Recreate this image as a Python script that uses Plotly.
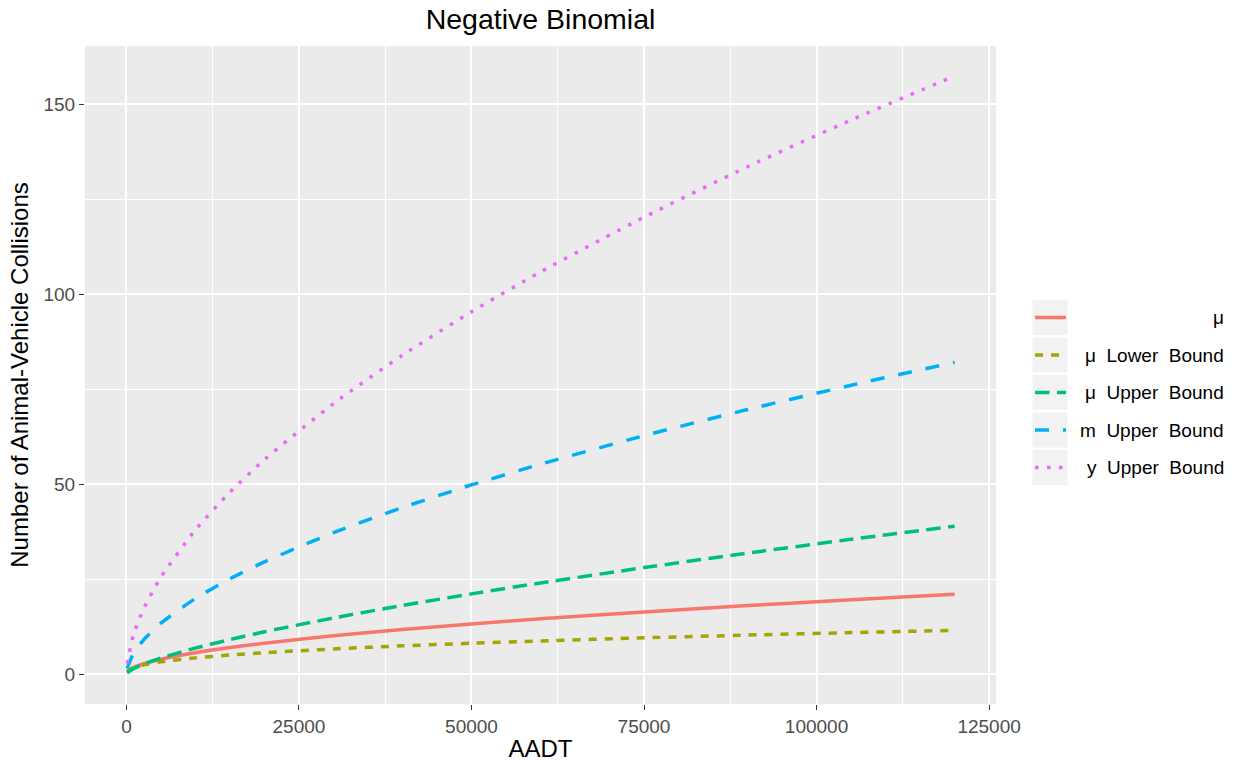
import plotly.graph_objects as go

# ---- data ----
aadt = [100, 1000, 2500, 5000, 10000, 15000, 20000, 30000, 40000, 50000,
        60000, 75000, 90000, 105000, 120000]
mu = [0.49, 1.66, 2.70, 3.90, 5.62, 6.97, 8.12, 10.07, 11.73, 13.2,
      14.54, 16.36, 18.02, 19.56, 20.99]
mu_lower = [0.67, 1.69, 2.44, 3.22, 4.25, 5.00, 5.61, 6.60, 7.41, 8.1,
            8.71, 9.53, 10.25, 10.90, 11.50]
mu_upper = [0.27, 1.37, 2.59, 4.21, 6.84, 9.08, 11.11, 14.76, 18.05, 21.1,
            23.97, 28.03, 31.84, 35.47, 38.94]
m_upper = [1.44, 5.34, 9.01, 13.38, 19.88, 25.05, 29.52, 37.21, 43.85, 49.8,
           55.26, 62.77, 69.65, 76.05, 82.08]
y_upper = [2.72, 10.16, 17.17, 25.52, 37.96, 47.88, 56.45, 71.21, 83.95, 95.4,
           105.9, 120.3, 133.6, 145.9, 157.5]

series_names = ["μ", "μ Lower Bound", "μ Upper Bound", "m Upper Bound", "y Upper Bound"]
series_values = [mu, mu_lower, mu_upper, m_upper, y_upper]
colors = ["#F8766D", "#A3A500", "#00BF7D", "#00B0F6", "#E76BF3"]
dashes = ["solid", "8px,8px", "14.5px,7.5px", "14px,14px", "3.5px,8.5px"]

x_ticks = [0, 25000, 50000, 75000, 100000, 125000]
x_ticktext = ["0", "25000", "50000", "75000", "100000", "125000"]
y_ticks = [0, 50, 100, 150]
y_ticktext = ["0", "50", "100", "150"]

FONT = "Liberation Sans, Arial, sans-serif"
W, H = 1238, 765
L, R, T, B = 85, 242, 46, 61

fig = go.Figure()
for name, vals, col, dsh in zip(series_names, series_values, colors, dashes):
    fig.add_trace(go.Scatter(
        x=aadt, y=vals, mode="lines", name=name, showlegend=False,
        line=dict(color=col, width=3.5, dash=dsh, shape="spline", smoothing=0.6),
    ))

fig.update_layout(
    width=W, height=H,
    margin=dict(l=L, r=R, t=T, b=B, autoexpand=False),
    paper_bgcolor="white", plot_bgcolor="#EBEBEB",
    font=dict(family=FONT, color="#4D4D4D", size=19),
    title=dict(text="Negative Binomial", x=0.5, xref="paper", xanchor="center",
               y=1 - 19 / H, yref="container", yanchor="middle",
               font=dict(family=FONT, size=28.5, color="black")),
    showlegend=False,
)

fig.update_xaxes(
    range=[-6000, 126000], tickvals=x_ticks, ticktext=x_ticktext,
    showgrid=True, gridcolor="white", gridwidth=1.6, zeroline=False,
    minor=dict(tick0=12500, dtick=25000, showgrid=True, gridcolor="white", gridwidth=0.8),
    ticks="outside", ticklen=5, tickwidth=1.1, tickcolor="#333333",
    tickfont=dict(family=FONT, size=19, color="#4D4D4D"),
    showline=False, automargin=False,
    title=dict(text="AADT", font=dict(family=FONT, size=24, color="black"), standoff=4),
)
fig.update_yaxes(
    range=[-7.9, 165.4], tickvals=y_ticks, ticktext=y_ticktext,
    showgrid=True, gridcolor="white", gridwidth=1.6, zeroline=False,
    minor=dict(tick0=25, dtick=50, showgrid=True, gridcolor="white", gridwidth=0.8),
    ticks="outside", ticklen=5, tickwidth=1.1, tickcolor="#333333",
    tickfont=dict(family=FONT, size=19, color="#4D4D4D"),
    showline=False, automargin=False,
    title=dict(text="Number of Animal-Vehicle Collisions",
               font=dict(family=FONT, size=24, color="black"), standoff=8),
)

# ---- manual legend (right-aligned labels as in the reference) ----
pw = W - L - R
ph = H - T - B


def px_x(px):
    return (px - L) / pw


def px_y(py):
    return (H - B - py) / ph


nb = "\u00a0\u00a0"
legend_labels = [
    "μ",
    "μ" + nb + "Lower" + nb + "Bound",
    "μ" + nb + "Upper" + nb + "Bound",
    "m" + nb + "Upper" + nb + "Bound",
    "y" + nb + "Upper" + nb + "Bound",
]
top0, step, kh = 300, 37.5, 35
for i, (lab, col, dsh) in enumerate(zip(legend_labels, colors, dashes)):
    y0 = top0 + i * step
    yc = y0 + kh / 2
    fig.add_shape(type="rect", xref="paper", yref="paper",
                  x0=px_x(1032.5), x1=px_x(1067.5), y0=px_y(y0 + kh), y1=px_y(y0),
                  fillcolor="#F2F2F2", line=dict(width=0), layer="below")
    fig.add_shape(type="line", xref="paper", yref="paper",
                  x0=px_x(1035), x1=px_x(1066), y0=px_y(yc), y1=px_y(yc),
                  line=dict(color=col, width=3.5, dash=dsh))
    fig.add_annotation(xref="paper", yref="paper", x=px_x(1226), y=px_y(yc),
                       xanchor="right", yanchor="middle", text=lab, showarrow=False,
                       font=dict(family=FONT, size=19, color="black"))

fig.write_html(
    "out.html",
    config={"displayModeBar": False},
    post_script="document.body.style.margin='0';document.body.style.overflow='hidden';",
)
